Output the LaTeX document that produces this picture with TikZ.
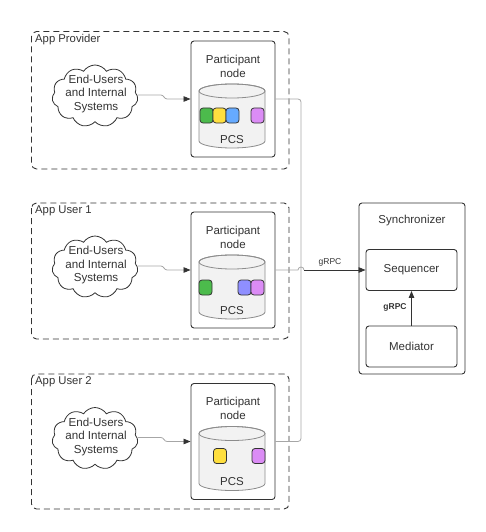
\documentclass[tikz,border=0pt]{standalone}
\usepackage{fontspec}
\setmainfont{Liberation Sans}
\usetikzlibrary{shapes.symbols,arrows.meta}
\definecolor{ink}{HTML}{333333}
\definecolor{lgray}{HTML}{A6A6A6}
\definecolor{cylfill}{HTML}{F2F2F2}
\definecolor{cylline}{HTML}{8C8C8C}
\definecolor{bgreen}{HTML}{4CBB4C}
\definecolor{byellow}{HTML}{FFDF3F}
\definecolor{bblue}{HTML}{66AAFF}
\definecolor{bperi}{HTML}{8F8FFF}
\definecolor{bpink}{HTML}{DB8CF5}
\begin{document}
\begin{tikzpicture}[x=1pt,y=-1pt,
  appbox/.style={draw=ink,line width=0.9pt,dash pattern=on 6pt off 4pt,rounded corners=5pt},
  apptitle/.style={anchor=west,font=\fontsize{11.3}{13}\selectfont,text=ink,inner sep=0pt},
  partbox/.style={draw=ink,line width=0.9pt,fill=white,rounded corners=3pt,minimum width=84pt,minimum height=116pt,inner sep=0pt},
  parttitle/.style={align=center,font=\fontsize{11.5}{14}\selectfont,text=ink,inner sep=0pt},
  cloudnode/.style={cloud,draw=ink,line width=0.8pt,cloud puffs=11,cloud puff arc=115,minimum width=86pt,minimum height=62pt,inner sep=0pt},
  cloudtext/.style={align=center,font=\fontsize{11.6}{13.5}\selectfont,text=ink,inner sep=0pt},
  blk/.style={draw=ink,line width=0.8pt,rounded corners=3pt,minimum width=13pt,minimum height=15pt,inner sep=0pt},
  pcslabel/.style={font=\fontsize{11.5}{13}\selectfont,text=ink,inner sep=0pt},
  syncbox/.style={draw=ink,line width=0.9pt,rounded corners=3pt},
  inbox/.style={draw=ink,line width=0.9pt,rounded corners=3pt,minimum width=91pt,minimum height=41pt,inner sep=0pt,font=\fontsize{11.5}{13}\selectfont,text=ink},
  gconn/.style={draw=lgray,line width=0.8pt},
  arr/.style={-{Triangle[length=7pt,width=5.5pt]},color=ink,line width=0.8pt},
  garr/.style={lgray,line width=0.8pt,-{Triangle[length=7pt,width=5.5pt,color=ink]}},
  smalllbl/.style={font=\fontsize{8.5}{10}\selectfont,text=ink,inner sep=0pt}
]
\useasboundingbox (0,0) rectangle (486,532);

% --- app boxes
\draw[appbox] (31.5,31.5) rectangle (289,169);
\draw[appbox] (31.5,203) rectangle (289,339);
\draw[appbox] (31.5,374) rectangle (289,509);
\node[apptitle] (t1) at (35,40) {App Provider};
\node[apptitle] (t2) at (35,211) {App User 1};
\node[apptitle] (t3) at (35,382) {App User 2};

% --- participant boxes
\node[partbox] (p1) at (233,99) {};
\node[partbox] (p2) at (233,270) {};
\node[partbox] (p3) at (233,441.5) {};
\node[parttitle] (pt1) at (233,66) {Participant\\node};
\node[parttitle] (pt2) at (233,237) {Participant\\node};
\node[parttitle] (pt3) at (233,408.5) {Participant\\node};

% --- cylinders (top ellipse centre y = T+50, bottom = T+100)
\foreach \T in {41,212,383.5}{
  \pgfmathsetmacro{\ya}{\T+50}
  \pgfmathsetmacro{\yb}{\T+100}
  \filldraw[fill=cylfill,draw=cylline,line width=0.8pt]
    (199,\ya) -- (199,\yb) arc[start angle=180,end angle=360,x radius=33pt,y radius=7pt]
    -- (265,\ya) arc[start angle=0,end angle=180,x radius=33pt,y radius=7pt] -- cycle;
  \draw[cylline,line width=0.8pt] (232,\ya) ellipse[x radius=33pt,y radius=7pt];
}
\node[pcslabel] (pcs1) at (232,140) {PCS};
\node[pcslabel] (pcs2) at (232,311) {PCS};
\node[pcslabel] (pcs3) at (232,482) {PCS};

% --- blocks
\node[blk,fill=bgreen]  (b11) at (206.5,115.5) {};
\node[blk,fill=byellow] (b12) at (219.5,115.5) {};
\node[blk,fill=bblue]   (b13) at (232.5,115.5) {};
\node[blk,fill=bpink]   (b14) at (257.5,115.5) {};
\node[blk,fill=bgreen]  (b21) at (205.5,287.5) {};
\node[blk,fill=bperi]   (b22) at (244.5,287.5) {};
\node[blk,fill=bpink]   (b23) at (257.5,287.5) {};
\node[blk,fill=byellow] (b31) at (220,456) {};
\node[blk,fill=bpink]   (b32) at (258.5,456) {};

% --- clouds
\node[cloudnode] (c1) at (95,96) {};
\node[cloudnode] (c2) at (95,267) {};
\node[cloudnode] (c3) at (95,438.5) {};
\node[cloudtext] (c1t) at (96,94) {End-Users\\and Internal\\Systems};
\node[cloudtext] (c2t) at (96,265) {End-Users\\and Internal\\Systems};
\node[cloudtext] (c3t) at (96,436.5) {End-Users\\and Internal\\Systems};

\draw[garr] (c1.east |- 0,95) -- (161,95) to[out=0,in=180] (167,99) -- (p1.west);
\draw[garr] (c2.east |- 0,266) -- (161,266) to[out=0,in=180] (167,270) -- (p2.west);
\draw[garr] (c3.east |- 0,437.5) -- (161,437.5) to[out=0,in=180] (167,441.5) -- (p3.west);

% --- synchronizer
\draw[syncbox] (359,203) rectangle (465,374);
\node[font=\fontsize{11.5}{13}\selectfont,text=ink,inner sep=0pt] (synct) at (412,221) {Synchronizer};
\node[inbox] (seq) at (411.5,270) {Sequencer};
\node[inbox] (med) at (411.5,346.5) {Mediator};
\draw[arr] (med) -- (seq);
\node[smalllbl,font=\bfseries\fontsize{8.5}{10}\selectfont] (g2) at (395,307) {gRPC};

% --- participant connectors
\coordinate (jn) at (301,270);
\draw[gconn,rounded corners=3pt] (p1.east) -- (301,99) -- (jn);
\draw[gconn,rounded corners=3pt] (p3.east) -- (301,441.5) -- (jn);
\draw[gconn] (p2.east) -- (298,270) arc[start angle=180,end angle=0,radius=3pt];
\draw[arr] (304,270) -- (seq.west);
\node[smalllbl] (g1) at (330,262) {gRPC};
\end{tikzpicture}
\end{document}
